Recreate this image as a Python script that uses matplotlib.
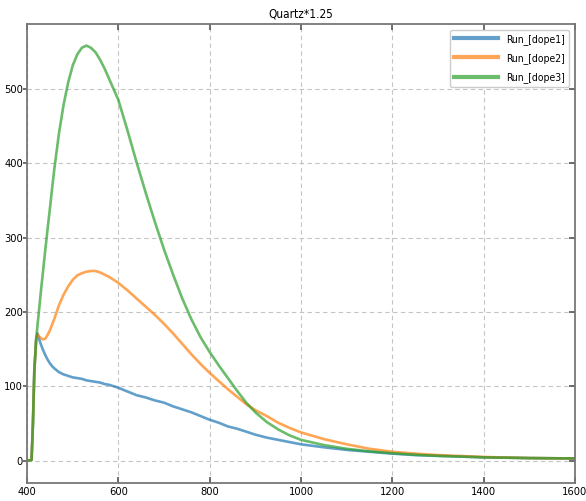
import matplotlib
matplotlib.use("Agg")
import matplotlib.pyplot as plt
from matplotlib import font_manager
from matplotlib.lines import TICKLEFT

# pick a condensed sans font if one is installed
stretch = 'normal'
fam = ['DejaVu Sans']
cands = [(f.name, f.stretch) for f in font_manager.fontManager.ttflist]
names = {n for n, _ in cands}
if any(n == 'DejaVu Sans' and str(s) in ('condensed', 'semi-condensed', '75', '87.5') for n, s in cands):
    stretch = 'condensed'
elif 'DejaVu Sans Condensed' in names:
    fam = ['DejaVu Sans Condensed', 'DejaVu Sans']
elif 'Liberation Sans Narrow' in names:
    fam = ['Liberation Sans Narrow', 'DejaVu Sans']
elif 'Roboto Condensed' in names:
    fam = ['Roboto Condensed', 'DejaVu Sans']
elif 'Roboto' in names:
    fam = ['Roboto', 'DejaVu Sans']
plt.rcParams['font.family'] = fam
plt.rcParams['font.stretch'] = stretch

wavelength = [400, 410, 413, 416, 420, 423, 426, 430, 435, 440,
              445, 450, 455, 460, 470, 480, 490, 500, 510, 520,
              530, 540, 550, 560, 570, 580, 590, 600, 620, 640,
              660, 680, 700, 720, 740, 760, 780, 800, 820, 840,
              860, 880, 900, 925, 950, 975, 1000, 1050, 1100, 1150,
              1200, 1250, 1300, 1400, 1500, 1600]

dope1 = [0, 1, 50, 120, 162, 171, 165, 157, 149, 142,
         136, 131, 127, 124, 119, 116, 114, 112, 111, 110,
         108, 107, 106, 105, 103, 102, 100, 98, 93, 88,
         85, 81, 78, 73, 69, 65, 60, 55, 51, 46,
         43, 39, 35, 31, 28, 25, 22, 18, 14.5, 12,
         9.5, 7.5, 6.5, 4.5, 3.5, 3]

dope2 = [0, 1, 50, 120, 162, 170, 167, 165, 163, 164,
         169, 175, 183, 191, 209, 223, 234, 243, 249, 252,
         254, 255, 255, 253, 250, 247, 243, 239, 229, 218,
         207, 196, 184, 171, 157, 143, 130, 118, 107, 96,
         86, 76, 68, 60, 51, 44, 38, 29, 22, 16,
         12, 9.5, 7.5, 5, 3.5, 3]

dope3 = [0, 1, 50, 120, 163, 182, 200, 225, 254, 283,
         311, 338, 366, 393, 440, 478, 508, 531, 546, 555,
         558, 555, 549, 539, 527, 513, 499, 485, 444, 401,
         360, 321, 284, 250, 218, 190, 166, 146, 128, 111,
         94, 78, 65, 52, 42, 34, 28, 21, 16, 12.5,
         10, 8, 6.5, 4.5, 3.5, 3]

labels = ['Run_[dope1]', 'Run_[dope2]', 'Run_[dope3]']
colors = ['tab:blue', 'tab:orange', 'tab:green']
title = 'Quartz*1.25'
xticks = [400, 600, 800, 1000, 1200, 1400, 1600]
yticks = [0, 100, 200, 300, 400, 500]

fig = plt.figure(figsize=(5.86, 5.01), dpi=100)
ax = fig.add_axes([27/586, 1-483/501, (575-27)/586, (483-24)/501])

for ys, lab, c in zip([dope1, dope2, dope3], labels, colors):
    ax.plot(wavelength, ys, color=c, alpha=0.7, lw=1.9, label=lab)

ax.set_xlim(400, 1600)
ax.set_ylim(-30, 587)
ax.set_xticks(xticks)
ax.set_yticks(yticks)
ax.grid(True, ls=(0, (4, 3)), color='#c4c4c4', lw=0.8)

for s in ax.spines.values():
    s.set_color('#777777')
    s.set_linewidth(1.3)

ax.tick_params(axis='both', which='both', direction='in', top=True, right=True,
               length=4, width=1.2, color='#555555', labelsize=8, pad=3)
for t in ax.yaxis.get_major_ticks():
    t.tick1line.set_marker(TICKLEFT)
    t.tick1line.set_markersize(3)

ax.set_title(title, fontsize=8.5, pad=5)
leg = ax.legend(loc='upper right', fontsize=7.5, handlelength=4.2, framealpha=1,
                borderaxespad=0.55, labelspacing=0.8, handletextpad=0.8)
for l in leg.get_lines():
    l.set_linewidth(3)

fig.savefig('out.png', dpi=100)
